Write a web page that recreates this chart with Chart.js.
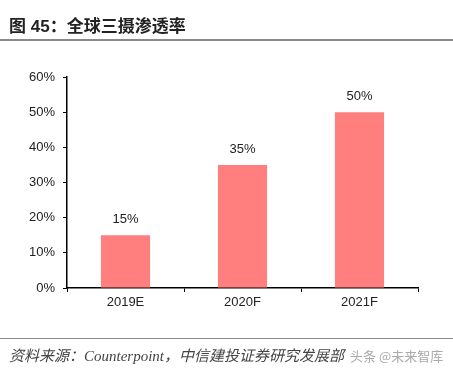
<!DOCTYPE html>
<html><head><meta charset="utf-8">
<script src="https://cdn.jsdelivr.net/npm/chart.js@4/dist/chart.umd.min.js"></script>
<style>
html,body{margin:0;padding:0;background:#fff;width:453px;height:373px;overflow:hidden;}
#wrap{position:absolute;left:0;top:0;width:453px;height:373px;}
canvas{position:absolute;left:0;top:0;}
#title{position:absolute;left:9px;top:12px;font:bold 17px "Liberation Sans","Noto Sans CJK SC",sans-serif;color:#222;white-space:nowrap;}
#tline{position:absolute;left:0;top:39px;width:453px;height:2px;background:#8a8a8a;}
#bline{position:absolute;left:0;top:338px;width:453px;height:1px;background:#8a8a8a;}
#foot{position:absolute;left:9px;top:344px;font:italic 15px "Liberation Serif","Noto Sans CJK SC",serif;color:#444;white-space:nowrap;}
#wm{color:#aaa;font-style:normal;font-family:"Noto Sans CJK SC",sans-serif;font-size:13px;margin-left:6px;}
</style></head>
<body><div id="wrap">
<canvas id="c" width="453" height="373"></canvas>
<div id="title">图 45：全球三摄渗透率</div>
<div id="tline"></div>
<div id="bline"></div>
<div id="foot">资料来源：Counterpoint，中信建投证券研究发展部<span id="wm">头条 @未来智库</span></div>
</div>
<script>
const categories = ['2019E', '2020F', '2021F'];
const penetration = [15, 35, 50];
const yTicks = [0, 10, 20, 30, 40, 50, 60];

const labelPlugin = {
  id: 'barLabels',
  afterDatasetsDraw(chart) {
    const ctx = chart.ctx;
    const meta = chart.getDatasetMeta(0);
    ctx.save();
    ctx.font = '13px "Liberation Sans", Arial, sans-serif';
    ctx.fillStyle = '#222';
    ctx.textAlign = 'center';
    ctx.textBaseline = 'bottom';
    meta.data.forEach((bar, i) => {
      ctx.fillText(penetration[i] + '%', bar.x, bar.y - 9);
    });
    ctx.restore();
  }
};

new Chart(document.getElementById('c'), {
  type: 'bar',
  data: {
    labels: categories,
    datasets: [{
      data: penetration,
      backgroundColor: '#FF7F7F',
      borderWidth: 0,
      categoryPercentage: 0.84,
      barPercentage: 0.5
    }]
  },
  options: {
    responsive: false,
    animation: false,
    devicePixelRatio: 1,
    layout: { padding: { left: 0, right: 35, top: 77, bottom: 0 } },
    plugins: { legend: { display: false }, tooltip: { enabled: false }, title: { display: false } },
    scales: {
      x: {
        grid: { display: true, drawOnChartArea: false, drawTicks: true, tickLength: 4, offset: true, color: '#000', lineWidth: 1 },
        border: { display: true, color: '#000', width: 1.5 },
        ticks: { color: '#222', font: { size: 13, family: '"Liberation Sans", Arial, sans-serif' }, padding: 3, maxRotation: 0 },
        afterFit(scale) { scale.height = 85; }
      },
      y: {
        min: 0, max: 60,
        afterBuildTicks(scale) { scale.ticks = yTicks.map(v => ({ value: v })); },
        grid: { display: true, drawOnChartArea: false, drawTicks: true, tickLength: 4, color: '#000' },
        border: { display: true, color: '#000', width: 1.5 },
        ticks: { color: '#222', font: { size: 13, family: '"Liberation Sans", Arial, sans-serif' }, padding: 8, callback: v => v + '%' },
        afterFit(scale) { scale.width = 67; }
      }
    }
  },
  plugins: [labelPlugin]
});
</script>
</body></html>
